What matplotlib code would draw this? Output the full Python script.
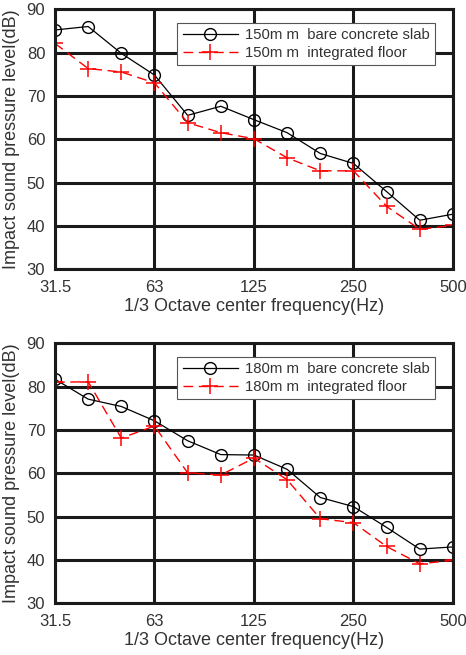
import numpy as np
import matplotlib.pyplot as plt

# Datos
freqs = ['31.5', '40', '50', '63', '80', '100', '125', '160', '200', '250', '315', '400', '500']
tick_labels = ['31.5', '63', '125', '250', '500']

bare_150 = [85.2, 86.0, 79.8, 74.8, 65.5, 67.6, 64.5, 61.5, 56.7, 54.4, 47.9, 41.3, 42.7]
integ_150 = [82.1, 76.3, 75.5, 73.0, 63.8, 61.5, 60.1, 55.7, 52.7, 52.7, 44.5, 39.2, 40.1]
bare_180 = [81.7, 77.1, 75.4, 72.1, 67.5, 64.3, 64.2, 60.9, 54.4, 52.3, 47.5, 42.5, 43.0]
integ_180 = [81.0, 81.1, 68.1, 70.9, 60.1, 59.6, 63.5, 58.5, 49.5, 48.6, 43.1, 39.1, 39.9]

plt.rcParams['font.family'] = ['Liberation Sans', 'DejaVu Sans']
txt = '#333333'

fig = plt.figure(figsize=(4.66, 6.55), dpi=100)
ax1 = fig.add_axes([0.118, 0.589, 0.854, 0.397])
ax2 = fig.add_axes([0.118, 0.079, 0.854, 0.397])

x = np.arange(len(freqs))

def dibujar(ax, bare, integ, grosor):
    ax.plot(x, bare, 'k-', marker='o', markerfacecolor='none', markersize=8.5,
            markeredgewidth=1.0, linewidth=0.9, label=grosor + 'm m  bare concrete slab')
    ax.plot(x, integ, color='red', linestyle=(0, (7, 4)), marker='+', markersize=12,
            markeredgewidth=1.1, linewidth=1.0, label=grosor + 'm m  integrated floor')
    ax.set_xlim(0, 12)
    ax.set_ylim(30, 90)
    ax.set_xticks([0, 3, 6, 9, 12])
    ax.set_xticklabels(tick_labels)
    ax.set_yticks(np.arange(30, 91, 10))
    ax.grid(True, color='#1a1a1a', linewidth=2.2)
    ax.set_axisbelow(True)
    for s in ax.spines.values():
        s.set_linewidth(2.2)
        s.set_color('#1a1a1a')
    ax.tick_params(axis='x', length=0, labelsize=12, colors=txt, pad=8)
    ax.tick_params(axis='y', length=0, labelsize=12, colors=txt, pad=7)
    ax.set_xlabel('1/3 Octave center frequency(Hz)', fontsize=13, color=txt, labelpad=2)
    ax.set_ylabel('Impact sound pressure level(dB)', fontsize=13, color=txt, labelpad=5)
    leg = ax.legend(loc='upper right', bbox_to_anchor=(0.955, 0.946), borderaxespad=0,
                    fontsize=10.7, fancybox=False, framealpha=1, edgecolor='#555555',
                    handlelength=3.7, borderpad=0.35, labelspacing=0.25, handletextpad=0.5)
    leg.get_frame().set_linewidth(0.8)
    for t in leg.get_texts():
        t.set_color(txt)

dibujar(ax1, bare_150, integ_150, '150')
dibujar(ax2, bare_180, integ_180, '180')

fig.savefig('out.png', dpi=100)
